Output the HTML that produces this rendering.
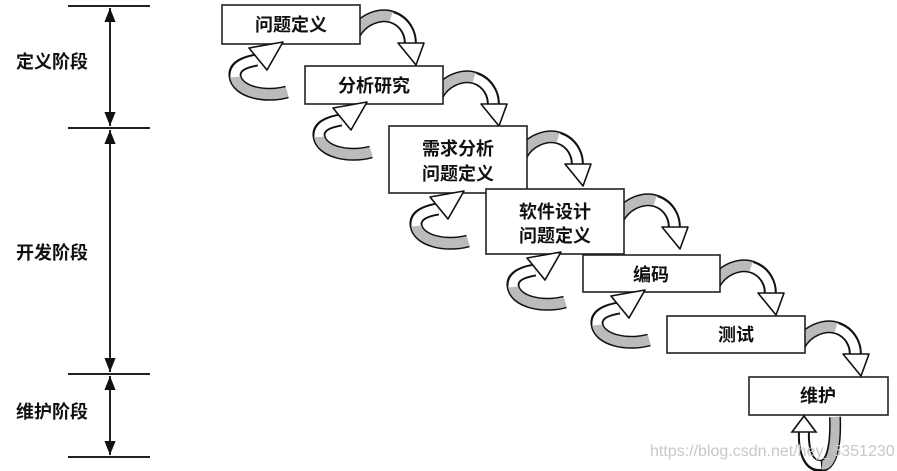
<!DOCTYPE html>
<html><head><meta charset="utf-8"><style>
body{margin:0;background:#fff;width:897px;height:471px;overflow:hidden}
svg{display:block}
text{font-family:"Liberation Sans","Noto Sans CJK SC",sans-serif;fill:#111;font-weight:bold}
</style></head><body>
<svg width="897" height="471" viewBox="0 0 897 471">
<defs>
<marker id="ah" viewBox="0 0 10 10" refX="10" refY="5" markerWidth="7" markerHeight="9" orient="auto-start-reverse"><path d="M0,1 L10,5 L0,9z" fill="#111"/></marker>
<g id="R">
 <path d="M-6,30 C2,14 20,8 32,12 C44,16 52,28 50,42" fill="none" stroke="#111" stroke-width="13"/>
 <path d="M-6,30 C2,14 20,8 32,12" fill="none" stroke="#bbb" stroke-width="10"/>
 <path d="M31,12 C44,16 52,28 50,42" fill="none" stroke="#fff" stroke-width="9"/>
 <polygon points="38,38 64,38 56,60" fill="#fff" stroke="#111" stroke-width="1.6" stroke-linejoin="round"/>
</g>
<g id="L">
 <path d="M-18,50 C-40,56 -68,50 -70,34 C-71,24 -60,20 -48,18" fill="none" stroke="#111" stroke-width="13"/>
 <path d="M-18,50 C-40,56 -68,50 -70,34" fill="none" stroke="#bbb" stroke-width="10"/>
 <path d="M-70,35 C-71,24 -60,20 -48,18" fill="none" stroke="#fff" stroke-width="9"/>
 <polygon points="-22,0 -38,28 -56,6" fill="#fff" stroke="#111" stroke-width="1.6" stroke-linejoin="round"/>
</g>
</defs>
<g stroke="#222" stroke-width="2">
<line x1="68" y1="6" x2="150" y2="6"/><line x1="68" y1="128" x2="150" y2="128"/>
<line x1="68" y1="374" x2="150" y2="374"/><line x1="68" y1="457" x2="150" y2="457"/>
<line x1="110" y1="8" x2="110" y2="126" marker-start="url(#ah)" marker-end="url(#ah)"/>
<line x1="110" y1="130" x2="110" y2="372" marker-start="url(#ah)" marker-end="url(#ah)"/>
<line x1="110" y1="376" x2="110" y2="455" marker-start="url(#ah)" marker-end="url(#ah)"/>
</g>
<text x="16" y="68" font-size="18">定义阶段</text>
<text x="16" y="259" font-size="18">开发阶段</text>
<text x="16" y="418" font-size="18">维护阶段</text>
<use href="#R" x="360" y="5"/>
<use href="#R" x="443" y="66"/>
<use href="#R" x="527" y="126"/>
<use href="#R" x="624" y="189"/>
<use href="#R" x="720" y="255"/>
<use href="#R" x="805" y="316"/>
<g fill="#fff" stroke="#222" stroke-width="1.6">
<rect x="222" y="5" width="138" height="39"/>
<rect x="305" y="66" width="138" height="38"/>
<rect x="389" y="126" width="138" height="67"/>
<rect x="583" y="255" width="137" height="37"/>
<rect x="486" y="189" width="138" height="65"/>
<rect x="667" y="316" width="138" height="37"/>
<rect x="749" y="377" width="139" height="38"/>
</g>
<use href="#L" x="305" y="42"/>
<use href="#L" x="389" y="102"/>
<use href="#L" x="486" y="191"/>
<use href="#L" x="583" y="252"/>
<use href="#L" x="667" y="290"/>
<g font-size="18" text-anchor="middle">
<text x="291" y="31">问题定义</text>
<text x="374" y="92">分析研究</text>
<text x="458" y="155">需求分析</text>
<text x="458" y="180">问题定义</text>
<text x="555" y="218">软件设计</text>
<text x="555" y="242">问题定义</text>
<text x="651" y="281">编码</text>
<text x="736" y="341">测试</text>
<text x="818" y="402">维护</text>
</g>
<path d="M835,417 C836,445 832,466 820,466 C808,466 803,450 804,430" fill="none" stroke="#111" stroke-width="12"/>
<path d="M835,417 C836,445 832,466 822,465" fill="none" stroke="#bbb" stroke-width="9"/>
<path d="M821,465 C808,466 803,450 804,430" fill="none" stroke="#fff" stroke-width="8"/>
<polygon points="792,432 816,432 804,416" fill="#fff" stroke="#111" stroke-width="1.6"/>
<text x="650" y="456" font-size="16" style="fill:#c8c8c8;font-weight:normal">https://blog.csdn.net/hey_5351230</text>
</svg>
</body></html>
